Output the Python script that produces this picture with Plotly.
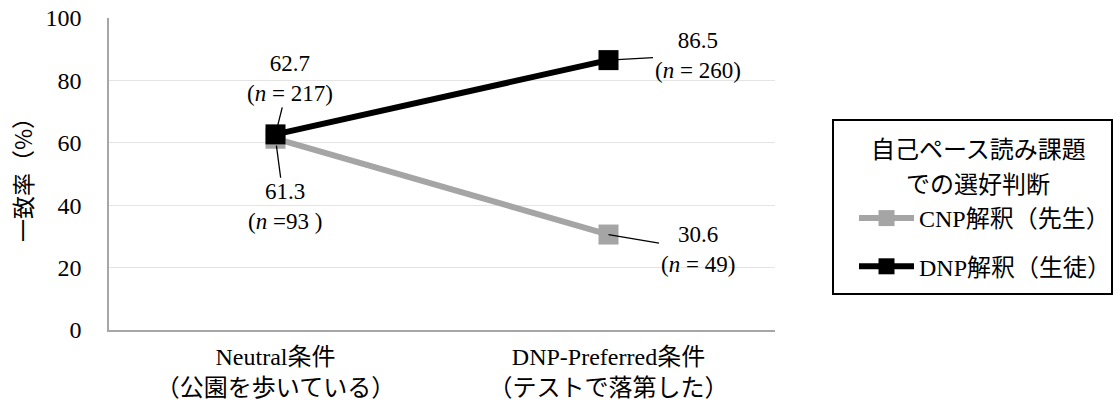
import plotly.graph_objects as go

categories = ["Neutral条件<br>（公園を歩いている）", "DNP-Preferred条件<br>（テストで落第した）"]
series_names = ["CNP解釈（先生）", "DNP解釈（生徒）"]
legend_title_lines = ["自己ペース読み課題", "での選好判断"]
cnp_values = [61.3, 30.6]
dnp_values = [62.7, 86.5]
cnp_n = [" =93 ", " = 49"]
dnp_n = [" = 217", " = 260"]
y_ticks = [0, 20, 40, 60, 80, 100]

SERIF = "Liberation Serif, Noto Sans CJK JP"
GOTHIC = "Noto Sans CJK JP"
GRAY = "#a5a5a5"

W, H = 1120, 412
PL, PT, PW, PH = 109, 18, 666, 312  # plot area in pixels


def px(xw):
    return (xw - PL) / PW


def py(yw):
    return (PT + PH - yw) / PH


fig = go.Figure()
fig.add_trace(go.Scatter(
    x=[0, 1], y=cnp_values, mode="lines+markers", name=series_names[0],
    line=dict(color=GRAY, width=6),
    marker=dict(symbol="square", size=20, color=GRAY),
    legendgroup="a",
))
fig.add_trace(go.Scatter(
    x=[0, 1], y=dnp_values, mode="lines+markers", name=series_names[1],
    line=dict(color="black", width=6),
    marker=dict(symbol="square", size=20, color="black"),
    legendgroup="b",
))

# data labels with leader lines: (x, y, text, ax, ay, standoff)
labels = [
    (0, dnp_values[0], f"{dnp_values[0]}<br>(<i>n</i>{dnp_n[0]})", 14, -56, 9),
    (0, cnp_values[0], f"{cnp_values[0]}<br>(<i>n</i>{cnp_n[0]})", 9, 68, 7),
    (1, dnp_values[1], f"{dnp_values[1]}<br>(<i>n</i>{dnp_n[1]})", 89, -5, 9),
    (1, cnp_values[1], f"{cnp_values[1]}<br>(<i>n</i>{cnp_n[1]})", 89, 15, 0),
]
for x, y, t, ax, ay, so in labels:
    fig.add_annotation(
        x=x, y=y, text=t, ax=ax, ay=ay, showarrow=True, arrowhead=0,
        arrowwidth=1.3, arrowcolor="black", standoff=so,
        font=dict(family=SERIF, size=23, color="black"),
    )

# legend frame
fig.add_shape(type="rect", xref="paper", yref="paper",
              x0=px(833), x1=px(1112), y0=py(120), y1=py(294),
              line=dict(color="black", width=2), fillcolor="white", layer="below")

# legend title lines
for text, yw in zip(legend_title_lines, [147, 182]):
    fig.add_annotation(
        xref="paper", yref="paper", x=px(978), y=py(yw), text=text,
        showarrow=False, xanchor="center", yanchor="middle",
        font=dict(family=GOTHIC, size=24, color="black"),
    )

fig.update_layout(
    width=W, height=H,
    margin=dict(l=PL, r=W - PL - PW, t=PT, b=H - PT - PH, autoexpand=False),
    plot_bgcolor="white", paper_bgcolor="white",
    font=dict(family=SERIF, size=24, color="black"),
    showlegend=True,
    legend=dict(
        x=px(854), y=py(196), xanchor="left", yanchor="top",
        bgcolor="rgba(0,0,0,0)", borderwidth=0,
        font=dict(family=SERIF, size=24),
        itemwidth=55, tracegroupgap=14,
    ),
    xaxis=dict(
        range=[-0.5, 1.5], tickvals=[0, 1], ticktext=categories,
        showgrid=False, zeroline=False, showline=True, linecolor="#a6a6a6",
        linewidth=1.5, ticks="", ticklabelstandoff=4, fixedrange=True,
        tickfont=dict(family=SERIF, size=24),
    ),
    yaxis=dict(
        range=[0, 100], tickvals=y_ticks, showgrid=True, gridcolor="#e4e4e4",
        gridwidth=1.2, zeroline=False, showline=True, linecolor="#a6a6a6",
        linewidth=1.5, ticks="", ticklabelstandoff=21, ticklabeloverflow="allow",
        tickfont=dict(family=SERIF, size=24),
        title=dict(text="一致率（%）", standoff=6, font=dict(family=GOTHIC, size=23)),
        automargin=False,
    ),
)

fig.write_html("out.html", config={"displayModeBar": False},
               post_script="document.body.style.margin='0';")
